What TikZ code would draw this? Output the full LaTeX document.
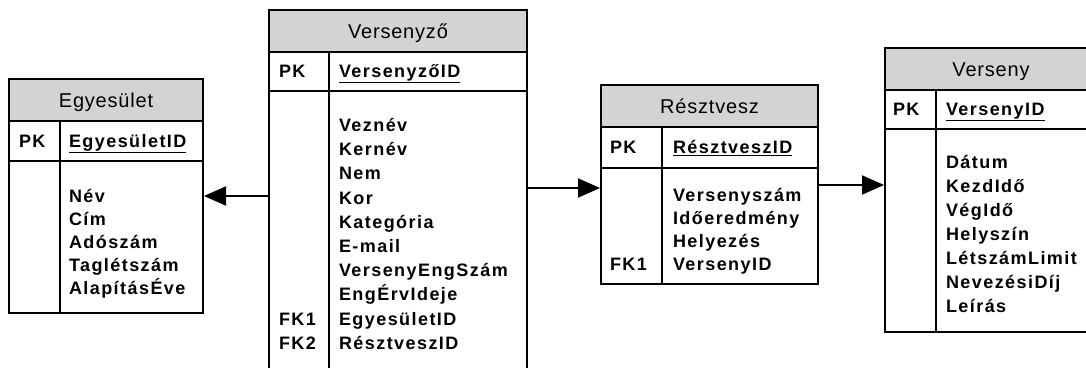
\documentclass[tikz,border=0pt]{standalone}
\usepackage{fontspec}
\setmainfont{Liberation Sans}
\newfontfamily\fieldfont{Liberation Sans}[LetterSpace=8]
\newfontfamily\titlefont{Liberation Sans}[LetterSpace=4]
\usetikzlibrary{arrows.meta}
\definecolor{hdrgray}{RGB}{211,211,211}

\begin{document}
\begin{tikzpicture}[x=1pt, y=-1pt, line width=2pt,
		tbl/.style={draw, anchor=north west, inner sep=0pt},
		hdr/.style={draw, fill=hdrgray, anchor=north west, inner sep=0pt, minimum height=42pt,
			text height=14pt, text depth=0pt, font=\titlefont\fontsize{20}{23}\selectfont},
		field/.style={anchor=west, inner sep=0pt, text height=13pt, text depth=0pt,
			font=\fieldfont\bfseries\fontsize{18}{21}\selectfont},
		arr/.style={-{Triangle[length=22pt,width=19pt]}}]
	\useasboundingbox (0,0) rectangle (1086,367);

	% Egyesület
	\node[tbl, minimum width=194pt, minimum height=234pt] (egy) at (8,78) {};
	\node[hdr, minimum width=194pt] (egyhead) at (8,78) {Egyesület};
	\draw (8,161)--(202,161);
	\draw (60,120)--(60,312);
	\node[field] (egypk) at (18,140.5) {PK};
	\node[field] (egykey) at (68,140.5) {\underline{EgyesületID}};
	\foreach \f [count=\i from 0] in {Név,Cím,Adószám,Taglétszám,AlapításÉve}
		{
			\node[field] (egyf\i) at (68,196+23*\i) {\f};
		}

	% Versenyző
	\node[tbl, minimum width=258pt, minimum height=380pt] (vzo) at (268,9) {};
	\node[hdr, minimum width=258pt] (vzohead) at (268,9) {Versenyző};
	\draw (268,91)--(526,91);
	\draw (329,51)--(329,380);
	\node[field] (vzopk) at (278,71) {PK};
	\node[field] (vzokey) at (338,71) {\underline{VersenyzőID}};
	\foreach \f [count=\i from 0] in {Veznév,Kernév,Nem,Kor,Kategória,E-mail,VersenyEngSzám,EngÉrvIdeje,EgyesületID,RésztveszID}
		{
			\node[field] (vzof\i) at (338,125+24.2*\i) {\f};
		}
	\node[field] (vzofk1) at (278,125+24.2*8) {FK1};
	\node[field] (vzofk2) at (278,125+24.2*9) {FK2};

	% Résztvesz
	\node[tbl, minimum width=217pt, minimum height=199pt] (rtv) at (600,84) {};
	\node[hdr, minimum width=217pt] (rtvhead) at (600,84) {Résztvesz};
	\draw (600,168)--(817,168);
	\draw (662,126)--(662,283);
	\node[field] (rtvpk) at (609,147) {PK};
	\node[field] (rtvkey) at (672,147) {\underline{RésztveszID}};
	\foreach \f [count=\i from 0] in {Versenyszám,Időeredmény,Helyezés,VersenyID}
		{
			\node[field] (rtvf\i) at (672,195+23*\i) {\f};
		}
	\node[field] (rtvfk1) at (609,195+23*3) {FK1};

	% Verseny
	\node[tbl, minimum width=212pt, minimum height=284pt] (ver) at (884,47) {};
	\node[hdr, minimum width=212pt] (verhead) at (884,47) {Verseny};
	\draw (884,129)--(1096,129);
	\draw (936,89)--(936,331);
	\node[field] (verpk) at (892,109) {PK};
	\node[field] (verkey) at (945,109) {\underline{VersenyID}};
	\foreach \f [count=\i from 0] in {Dátum,KezdIdő,VégIdő,Helyszín,LétszámLimit,NevezésiDíj,Leírás}
		{
			\node[field] (verf\i) at (945,162+24*\i) {\f};
		}

	% kapcsolatok
	\draw[arr] (vzo.west |- 0,196) -- (egy.east |- 0,196);
	\draw[arr] (vzo.east |- 0,188) -- (rtv.west |- 0,188);
	\draw[arr] (rtv.east |- 0,185) -- (ver.west |- 0,185);
\end{tikzpicture}
\end{document}
